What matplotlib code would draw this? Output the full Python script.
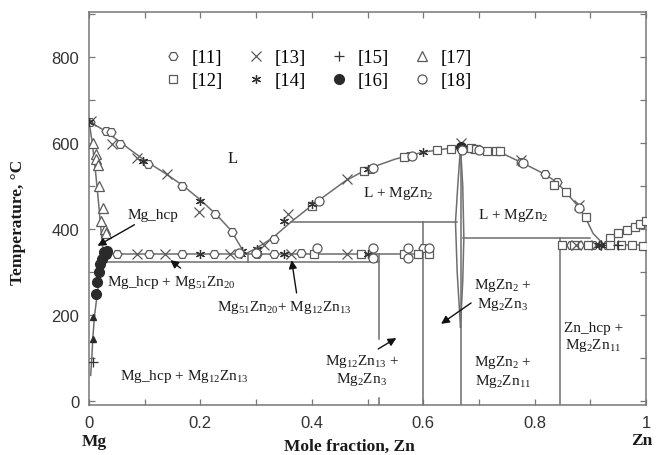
import matplotlib
matplotlib.use("Agg")
import matplotlib.pyplot as plt
from matplotlib.ticker import MultipleLocator
import numpy as np

plt.rcParams['font.family'] = ['Liberation Serif', 'DejaVu Serif']
plt.rcParams['mathtext.fontset'] = 'custom'
plt.rcParams['mathtext.rm'] = 'Liberation Serif'
plt.rcParams['mathtext.it'] = 'Liberation Serif:italic'
plt.rcParams['mathtext.bf'] = 'Liberation Serif:bold'

# ---------------- phase boundary lines (x = mole fraction Zn, T in C) ----------
liq_mg_x = [0.0, 0.03, 0.055, 0.10, 0.14, 0.17, 0.20, 0.23, 0.255, 0.28]
liq_mg_t = [650, 628, 603, 560, 527, 500, 468, 432, 397, 342]
solidus_x = [0.0, 0.006, 0.012, 0.018, 0.022, 0.026]
solidus_t = [650, 600, 530, 450, 390, 342]
solvus_x = [0.026, 0.02, 0.015, 0.01, 0.007, 0.005, 0.003]
solvus_t = [342, 300, 250, 200, 150, 100, 60]
liq_mid_x = [0.28, 0.30, 0.33, 0.362, 0.40, 0.46, 0.50, 0.55, 0.60, 0.667]
liq_mid_t = [342, 355, 380, 416, 455, 512, 540, 563, 579, 592]
liq_zn_x = [0.667, 0.70, 0.737, 0.775, 0.818, 0.84, 0.856, 0.879, 0.892, 0.905, 0.925]
liq_zn_t = [592, 588, 579, 556, 528, 509, 486, 452, 425, 390, 363]
liq_zn2_x = [0.925, 0.94, 0.96, 0.987, 1.0]
liq_zn2_t = [363, 384, 395, 412, 419]
lens_l_x = [0.667, 0.662, 0.658, 0.661, 0.667]
lens_l_t = [592, 500, 416, 300, 172]
lens_r_x = [0.667, 0.671, 0.673, 0.671, 0.667]
lens_r_t = [592, 500, 380, 280, 172]

# invariant lines: (x0, x1, T)
horiz_lines = [(0.026, 0.60, 342), (0.023, 0.52, 323), (0.362, 0.66, 416),
               (0.672, 0.90, 380), (0.846, 1.0, 363)]
# vertical compound lines: (x, T0, T1)
vert_lines = [(0.285, 323, 342), (0.52, 145, 342), (0.52, -9, 8), (0.60, -9, 416),
              (0.667, -9, 592), (0.846, -9, 380)]

# ---------------- experimental data ------------------------------------------
d11_x = [0.002, 0.03, 0.04, 0.055, 0.106, 0.167, 0.227, 0.257, 0.05, 0.107, 0.167,
         0.224, 0.302, 0.332, 0.38, 0.332, 0.506, 0.575, 0.69, 0.775, 0.818, 0.84,
         0.865, 0.88, 0.905, 0.93, 0.60]
d11_t = [650, 628, 626, 598, 551, 500, 435, 393, 342, 342, 342, 342, 342, 342, 345,
         378, 540, 569, 586, 556, 528, 509, 363, 363, 363, 363, 355]
d12_x = [0.404, 0.489, 0.566, 0.59, 0.401, 0.494, 0.566, 0.625, 0.65, 0.685, 0.695,
         0.715, 0.73, 0.737, 0.834, 0.856, 0.892, 0.935, 0.95, 0.965, 0.98, 0.99,
         1.0, 0.85, 0.87, 0.895, 0.935, 0.955, 0.975, 0.995, 0.61]
d12_t = [342, 342, 342, 342, 454, 535, 567, 585, 586, 589, 587, 582, 581, 581, 503,
         486, 428, 380, 390, 398, 405, 413, 418, 363, 363, 363, 363, 363, 363, 360,
         342]
d13_x = [0.003, 0.041, 0.086, 0.14, 0.197, 0.086, 0.137, 0.254, 0.362, 0.464,
         0.314, 0.357, 0.464, 0.667, 0.775, 0.879, 0.875, 0.91]
d13_t = [652, 598, 565, 528, 439, 342, 342, 342, 342, 342, 362, 435, 516, 600, 560,
         455, 363, 363]
d14_x = [0.0, 0.097, 0.2, 0.2, 0.272, 0.35, 0.5, 0.302, 0.35, 0.40, 0.5, 0.60,
         0.915, 0.92, 0.275]
d14_t = [650, 558, 465, 342, 342, 342, 342, 353, 419, 458, 540, 579, 363, 363, 350]
d15_x = [0.007, 0.95, 0.92]
d15_t = [91, 363, 363]
d16_x = [0.013, 0.015, 0.018, 0.02, 0.023, 0.027, 0.031, 0.032, 0.667]
d16_t = [250, 277, 300, 318, 330, 346, 342, 350, 590]
d16b_x = [0.008, 0.008]   # small filled triangles near the solvus
d16b_t = [195, 144]
d17_x = [0.007, 0.012, 0.013, 0.016, 0.018, 0.025, 0.028, 0.03, 0.022]
d17_t = [600, 575, 563, 550, 500, 450, 400, 392, 418]
d18_x = [0.41, 0.51, 0.573, 0.61, 0.51, 0.573, 0.413, 0.51, 0.58, 0.67, 0.70, 0.88,
         0.78, 0.27, 0.30]
d18_t = [355, 355, 355, 355, 332, 332, 465, 543, 570, 585, 584, 450, 553, 345, 345]

legend_labels = ['[11]', '[12]', '[13]', '[14]', '[15]', '[16]', '[17]', '[18]']

# ---------------- figure ----------------------------------------------------
fig = plt.figure(figsize=(6.56, 4.56), dpi=100)
ax = fig.add_axes([89/656, 50/456, 557/656, 393/456])

lc = '#6e6e6e'
lw = 1.1
for xs, ts in [(liq_mg_x, liq_mg_t), (solidus_x, solidus_t), (solvus_x, solvus_t),
               (liq_mid_x, liq_mid_t), (liq_zn_x, liq_zn_t), (liq_zn2_x, liq_zn2_t),
               (lens_l_x, lens_l_t), (lens_r_x, lens_r_t)]:
    ax.plot(xs, ts, color=lc, lw=lw, zorder=2)
for x0, x1, t in horiz_lines:
    ax.plot([x0, x1], [t, t], color=lc, lw=lw, zorder=2)
for x, t0, t1 in vert_lines:
    ax.plot([x, x], [t0, t1], color=lc, lw=lw, zorder=2)

mc = '#5a5a5a'
ms = 6.5
common = dict(linestyle='none', zorder=3)
h11, = ax.plot(d11_x, d11_t, marker='H', ms=ms, mfc='white', mec=mc, mew=0.9, **common)
h12, = ax.plot(d12_x, d12_t, marker='s', ms=ms - 0.5, mfc='white', mec=mc, mew=0.9, **common)
h13, = ax.plot(d13_x, d13_t, marker='x', ms=ms + 1, color=mc, mew=0.9, **common)
h14, = ax.plot(d14_x, d14_t, marker=(6, 2, 0), ms=ms, color='#333333', mew=0.9, **common)
h15, = ax.plot(d15_x, d15_t, marker='+', ms=ms + 1, color='#333333', mew=0.9, **common)
h16, = ax.plot(d16_x, d16_t, marker='o', ms=ms + 0.5, color='#2a2a2a', mec='#2a2a2a', **common)
ax.plot(d16b_x, d16b_t, marker='^', ms=5, color='#2a2a2a', **common)
h17, = ax.plot(d17_x, d17_t, marker='^', ms=ms, mfc='white', mec=mc, mew=0.9, **common)
h18, = ax.plot(d18_x, d18_t, marker='o', ms=ms, mfc='white', mec=mc, mew=0.9, **common)

leg = ax.legend([h11, h12, h13, h14, h15, h16, h17, h18], legend_labels, ncol=4,
                loc='upper left', bbox_to_anchor=(0.12, 0.925), frameon=False,
                fontsize=13.5, handlelength=1.0, handletextpad=0.5,
                columnspacing=1.27, labelspacing=0.32, borderaxespad=0)

ax.set_xlim(0, 1)
ax.set_ylim(-9, 905)
ax.xaxis.set_minor_locator(MultipleLocator(0.1))
ax.yaxis.set_minor_locator(MultipleLocator(100))
ax.set_xticks([0, 0.2, 0.4, 0.6, 0.8, 1.0])
ax.set_xticklabels(['0', '0.2', '0.4', '0.6', '0.8', '1'])
ax.set_yticks([0, 200, 400, 600, 800])
ax.set_yticklabels(['0', '200', '400', '600', '800'])
ax.tick_params(which='both', direction='in', top=True, right=True, length=4,
               color='#777777', width=0.9)
ax.tick_params(which='major', labelsize=12, pad=7, labelcolor='#333333')
for lab in ax.get_xticklabels() + ax.get_yticklabels():
    lab.set_fontfamily('Liberation Sans')
for s in ax.spines.values():
    s.set_color('#777777')
    s.set_linewidth(1.1)

fs = 11
tc = '#1a1a1a'
ls = 1.1
ax.text(0.258, 565, 'L', fontsize=fs + 1, color=tc, ha='center', va='center')
ax.text(0.555, 486, r'L + MgZn$_2$', fontsize=fs, color=tc, ha='center', va='center')
ax.text(0.761, 435, r'L + MgZn$_2$', fontsize=fs, color=tc, ha='center', va='center')
ax.text(0.171, 60, r'Mg_hcp + Mg$_{12}$Zn$_{13}$', fontsize=fs, color=tc, ha='center', va='center')
ax.text(0.743, 249, 'MgZn$_2$ +\nMg$_2$Zn$_3$', fontsize=fs, color=tc, ha='center',
        va='center', linespacing=ls)
ax.text(0.743, 70, 'MgZn$_2$ +\nMg$_2$Zn$_{11}$', fontsize=fs, color=tc, ha='center',
        va='center', linespacing=ls)
ax.text(0.905, 149, 'Zn_hcp +\nMg$_2$Zn$_{11}$', fontsize=fs, color=tc, ha='center',
        va='center', linespacing=ls)
ax.text(0.49, 74, 'Mg$_{12}$Zn$_{13}$ +\nMg$_2$Zn$_3$', fontsize=fs, color=tc, ha='center',
        va='center', linespacing=ls)

arrow = dict(arrowstyle='-|>', color='#111111', lw=1.0, mutation_scale=12)
ax.annotate('Mg_hcp', xy=(0.011, 358), xytext=(0.115, 435), fontsize=fs, color=tc,
            ha='center', va='center', arrowprops=arrow)
ax.annotate(r'Mg_hcp + Mg$_{51}$Zn$_{20}$', xy=(0.142, 332), xytext=(0.147, 279),
            fontsize=fs, color=tc, ha='center', va='center',
            arrowprops=dict(arrow, relpos=(0.62, 1.0)))
ax.annotate(r'Mg$_{51}$Zn$_{20}$+ Mg$_{12}$Zn$_{13}$', xy=(0.363, 334), xytext=(0.35, 219),
            fontsize=fs, color=tc, ha='center', va='center',
            arrowprops=dict(arrow, relpos=(0.6, 1.0)))
ax.annotate('', xy=(0.556, 150), xytext=(0.515, 118), arrowprops=arrow)
ax.annotate('', xy=(0.628, 176), xytext=(0.69, 232), arrowprops=arrow)

fig.text(0.027, 1 - 222/456, 'Temperature, \u00b0C', rotation=90, fontsize=12.5,
         fontweight='bold', ha='center', va='center', color=tc)
fig.text(349/656, 1 - 447/456, 'Mole fraction, Zn', fontsize=12.5, fontweight='bold',
         ha='center', va='center', color=tc)
fig.text(94/656, 1 - 442/456, 'Mg', fontsize=12.5, fontweight='bold', ha='center',
         va='center', color=tc)
fig.text(642/656, 1 - 441/456, 'Zn', fontsize=12.5, fontweight='bold', ha='center',
         va='center', color=tc)

fig.savefig('out.png', dpi=100)
